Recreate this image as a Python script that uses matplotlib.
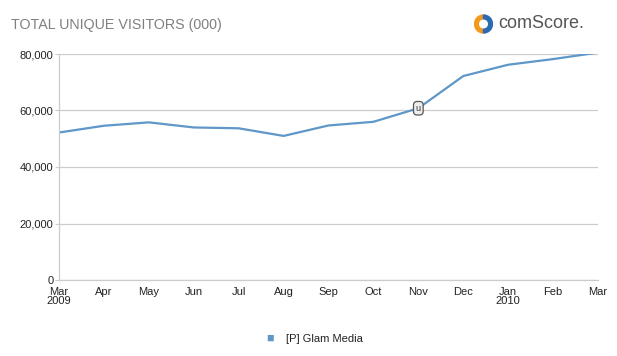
import matplotlib
matplotlib.use("Agg")
import matplotlib.pyplot as plt
from matplotlib.patches import Wedge

plt.rcParams["font.family"] = ["Liberation Sans", "DejaVu Sans"]

months = ["Mar\n2009", "Apr", "May", "Jun", "Jul", "Aug", "Sep", "Oct",
          "Nov", "Dec", "Jan\n2010", "Feb", "Mar"]
visitors = [52200, 54600, 55800, 54000, 53700, 51000, 54700, 56000,
            60800, 72200, 76200, 78200, 80500]
y_ticks = [0, 20000, 40000, 60000, 80000]
series_name = "[P] Glam Media"
note_idx = 8  # the "u" flag sits on Nov

line_color = "#5e97c8"
grid_color = "#cccccc"
text_color = "#222222"

fig = plt.figure(figsize=(6.17, 3.56), dpi=100)
ax = fig.add_axes([59 / 617, 1 - 280 / 356, 539 / 617, 226 / 356])

x = list(range(len(months)))
ax.plot(x, visitors, color=line_color, lw=1.6, solid_joinstyle="round")

ax.annotate("u", (x[note_idx], visitors[note_idx]), ha="center", va="center",
            fontsize=6.5, color="#333333",
            bbox=dict(boxstyle="round,pad=0.25,rounding_size=0.4",
                      fc="#eeeeee", ec="#555555", lw=0.9))

ax.set_xlim(0, len(months) - 1)
ax.set_ylim(0, 80000)
ax.set_yticks(y_ticks)
ax.set_yticklabels([f"{v:,}" for v in y_ticks])
ax.set_xticks(x)
ax.set_xticklabels(months, linespacing=0.9)
ax.tick_params(axis="y", length=3, color=grid_color, labelsize=8,
               labelcolor=text_color, pad=1)
ax.tick_params(axis="x", length=0, labelsize=8, labelcolor=text_color, pad=5)
ax.grid(axis="y", color=grid_color, lw=0.9)
ax.set_axisbelow(True)
for s in ["top", "right"]:
    ax.spines[s].set_visible(False)
for s in ["left", "bottom"]:
    ax.spines[s].set_color(grid_color)
    ax.spines[s].set_linewidth(0.9)

# title
fig.text(11 / 617, 1 - 25 / 356, "TOTAL UNIQUE VISITORS (000)", fontsize=10.3,
         color="#808080", va="center", ha="left")

# comScore logo (approximation)
logo_ax = fig.add_axes([474 / 617, 1 - 34 / 356, 19 / 617, 20 / 356])
logo_ax.set_xlim(-1, 1)
logo_ax.set_ylim(-1, 1)
logo_ax.set_aspect("equal")
logo_ax.axis("off")
logo_ax.add_patch(Wedge((0, 0), 0.95, 90, 270, width=0.4, color="#f39a1e"))
logo_ax.add_patch(Wedge((0, 0), 0.95, -90, 90, width=0.4, color="#2a6ab3"))
fig.text(498 / 617, 1 - 24 / 356, "comScore.", fontsize=13, color="#555555",
         va="center", ha="left")

# legend
fig.text(270 / 617, 1 - 339 / 356, "\u25a0", fontsize=9, color=line_color,
         va="center", ha="center")
fig.text(286 / 617, 1 - 339 / 356, series_name, fontsize=8,
         color=text_color, va="center", ha="left")

fig.savefig("out.png", dpi=100)
